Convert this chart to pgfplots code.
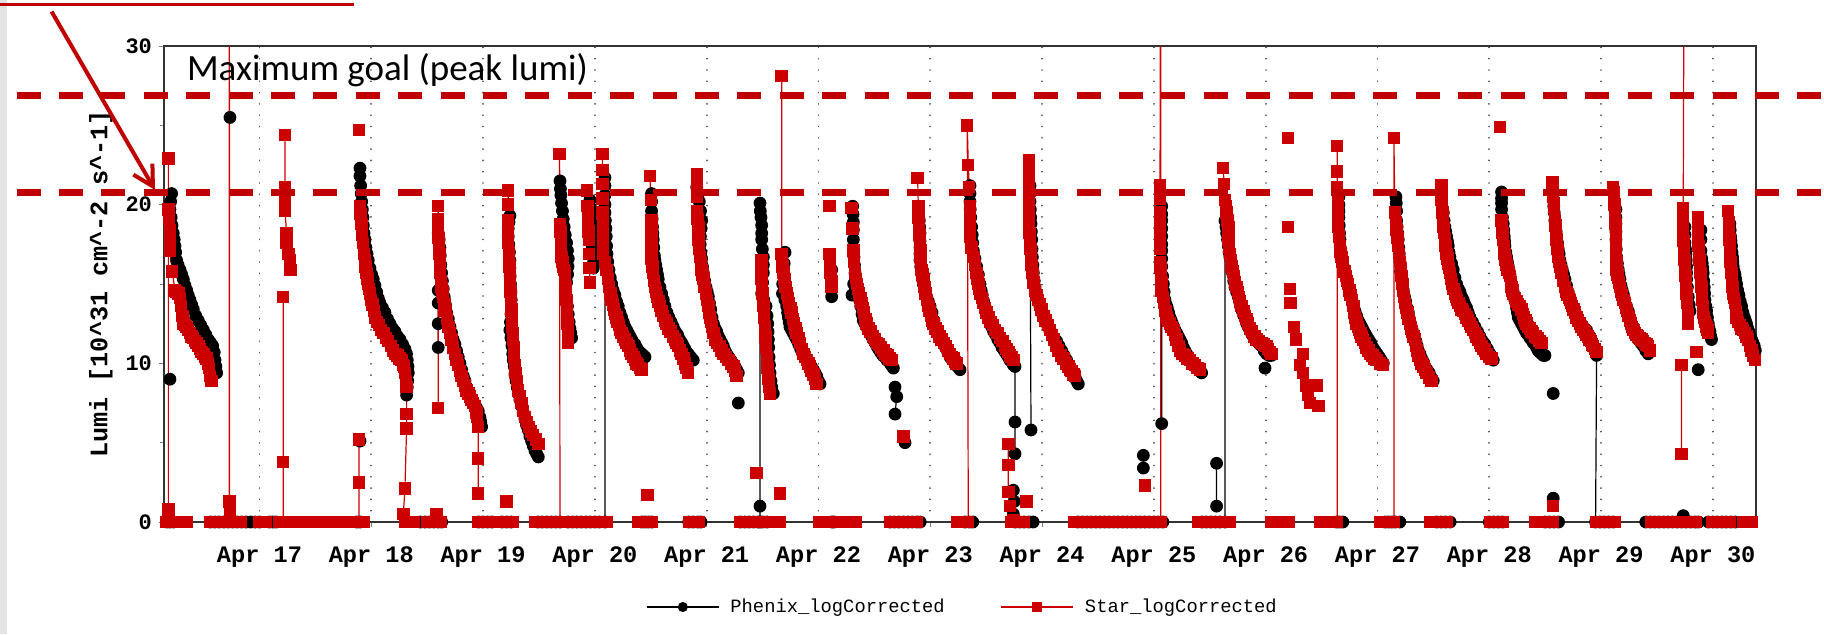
\documentclass[border=0pt]{standalone}
\usepackage{fontspec}
\usepackage{pgfplots}
\pgfplotsset{compat=1.18}
\usetikzlibrary{arrows.meta}
\newfontfamily\lmono{Liberation Mono}
\newfontfamily\calib{Carlito}
\definecolor{starred}{RGB}{204,0,0}
\definecolor{annred}{RGB}{192,0,0}
\pgfplotsset{
  phx/.style={black, line width=0.6pt, mark=*, mark size=2.9pt, mark options={solid, fill=black}},
  star/.style={starred, line width=0.6pt, mark=square*, mark size=2.8pt, mark options={solid, fill=starred}},
}
\begin{document}
\begin{tikzpicture}
\begin{axis}[
  at={(0,0)}, anchor=south west,
  scale only axis, width=796pt, height=238pt,
  xmin=16.146, xmax=30.386, ymin=0, ymax=30,
  unbounded coords=jump,
  axis line style={black!80, line width=0.8pt},
  tick pos=left, tick align=outside,
  major tick length=2.5pt, minor tick length=2pt,
  ytick={0,10,20,30}, minor ytick={5,15,25},
  xtick={17,18,...,30},
  xticklabels={Apr 17,Apr 18,Apr 19,Apr 20,Apr 21,Apr 22,Apr 23,Apr 24,Apr 25,Apr 26,Apr 27,Apr 28,Apr 29,Apr 30},
  /pgf/number format/assume math mode=true,
  yticklabel style={font=\lmono\bfseries\fontsize{11}{11}\selectfont},
  xticklabel style={font=\lmono\bfseries\fontsize{11.8}{12}\selectfont, yshift=-6.5pt},
  xmajorgrids=true,
  major grid style={line width=0.9pt, dash pattern=on 0.01pt off 5.64pt, line cap=round, black!70},
  every axis y label/.style={at={(axis description cs:-0.0396,0.5)}, rotate=90, anchor=center},
  ylabel={\lmono\bfseries\fontsize{12.6}{13}\selectfont Lumi [10\textasciicircum31 cm\textasciicircum-2 s\textasciicircum-1]},
  legend columns=2,
  legend style={at={(axis description cs:0.5022,-0.1786)}, anchor=center, draw=none, fill=none,
    font=\lmono\fontsize{9.4}{10}\selectfont,
    /tikz/every odd column/.append style={column sep=3.5pt},
    /tikz/every even column/.append style={column sep=26pt}},
  legend image code/.code={\draw[mark repeat=2,mark phase=2,#1,mark size=2.2pt] plot coordinates {(0pt,0pt) (18pt,0pt) (36pt,0pt)};},
]
% Phenix_logCorrected
\addplot[phx] coordinates {
(16.17,0)(16.20,0)(16.23,0)(16.24,nan)
(16.199,9.0)(16.2,nan)
(16.214,20.7)(16.205,20.2)(16.199,19.7)(16.210,19.2)(16.218,18.7)(16.229,18.2)(16.237,17.8)(16.244,17.4)(16.250,17.0)(16.259,16.5)(16.272,16.2)(16.289,15.9)(16.304,15.6)(16.319,15.3)(16.334,14.9)(16.349,14.6)(16.363,14.3)(16.378,14.0)(16.393,13.7)(16.408,13.4)(16.430,13.0)(16.453,12.7)(16.475,12.4)(16.498,12.1)(16.520,11.8)(16.542,11.5)(16.562,11.3)(16.581,11.1)(16.595,10.7)(16.602,10.2)(16.610,9.8)(16.617,9.4)(16.62,nan)
(16.56,0)(16.60,0)(16.64,0)(16.68,0)(16.72,0)(16.76,0)(16.80,0)(16.84,0)(16.88,0)(16.92,0)(16.96,0)(17.00,0)(17.0,nan)
(16.736,25.5)(16.74,nan)
(17.09,0)(17.12,0)(17.15,0)(17.15,nan)
(17.87,0)(17.90,0)(17.9,nan)
(17.899,5.1)(17.9,nan)
(17.899,22.3)(17.899,21.8)(17.905,21.2)(17.910,20.7)(17.914,20.2)(17.920,19.7)(17.926,19.2)(17.929,18.7)(17.935,18.2)(17.944,17.8)(17.952,17.3)(17.962,16.9)(17.973,16.5)(17.988,16.0)(18.003,15.6)(18.018,15.3)(18.033,14.9)(18.048,14.5)(18.063,14.1)(18.078,13.8)(18.100,13.5)(18.122,13.2)(18.145,12.8)(18.167,12.5)(18.190,12.2)(18.212,12.0)(18.235,11.7)(18.257,11.5)(18.280,11.2)(18.301,10.9)(18.315,10.6)(18.322,10.2)(18.328,9.8)(18.331,9.4)(18.326,8.9)(18.322,8.5)(18.316,8.0)(18.32,nan)
(18.44,0)(18.48,0)(18.52,0)(18.56,0)(18.60,0)(18.63,0)(18.63,nan)
(18.599,14.6)(18.599,13.8)(18.599,12.5)(18.599,11.0)(18.6,nan)
(18.599,18.2)(18.607,17.8)(18.614,17.3)(18.617,16.8)(18.622,16.2)(18.629,15.7)(18.636,15.2)(18.644,14.7)(18.652,14.2)(18.663,13.7)(18.674,13.2)(18.689,12.8)(18.704,12.3)(18.719,11.9)(18.733,11.5)(18.748,11.2)(18.763,10.8)(18.778,10.4)(18.793,10.0)(18.808,9.6)(18.823,9.2)(18.838,8.9)(18.853,8.5)(18.868,8.2)(18.883,8.0)(18.897,7.8)(18.912,7.6)(18.927,7.4)(18.942,7.2)(18.957,7.0)(18.972,6.6)(18.980,6.3)(18.987,6.0)(18.99,nan)
(18.96,0)(19.00,0)(19.04,0)(19.08,0)(19.08,nan)
(19.17,0)(19.21,0)(19.25,0)(19.25,nan)
(19.240,19.3)(19.232,18.9)(19.225,18.5)(19.225,18.0)(19.230,17.5)(19.236,17.0)(19.240,16.5)(19.240,16.0)(19.242,15.5)(19.245,15.0)(19.249,14.5)(19.252,14.0)(19.255,13.6)(19.250,13.1)(19.245,12.6)(19.240,12.1)(19.249,11.6)(19.258,11.1)(19.265,10.6)(19.270,10.2)(19.279,9.8)(19.285,9.3)(19.295,8.9)(19.305,8.5)(19.315,8.1)(19.330,7.7)(19.345,7.3)(19.359,6.9)(19.374,6.5)(19.389,6.1)(19.404,5.8)(19.419,5.4)(19.434,5.1)(19.449,4.8)(19.464,4.5)(19.479,4.3)(19.494,4.1)(19.5,nan)
(19.49,0)(19.53,0)(19.57,0)(19.61,0)(19.65,0)(19.69,0)(19.69,nan)
(19.688,21.5)(19.692,21.0)(19.696,20.6)(19.702,20.1)(19.710,19.6)(19.717,19.1)(19.725,18.6)(19.735,18.1)(19.747,17.6)(19.755,17.1)(19.762,16.6)(19.760,16.1)(19.756,15.6)(19.747,15.1)(19.735,14.6)(19.745,14.1)(19.755,13.6)(19.762,13.1)(19.770,12.6)(19.777,12.2)(19.785,11.9)(19.792,11.6)(19.8,nan)
(19.956,20.3)(19.962,19.8)(19.968,19.3)(19.971,18.8)(19.971,18.3)(19.971,17.8)(19.976,17.3)(19.980,16.8)(19.986,16.3)(19.986,16.0)(19.99,nan)
(19.76,0)(19.80,0)(19.84,0)(19.88,0)(19.92,0)(19.96,0)(20.00,0)(20.04,0)(20.09,0)
(20.090,21.7)(20.090,21.2)(20.090,20.6)(20.090,20.0)(20.090,19.5)(20.094,19.0)(20.099,18.5)(20.102,18.0)(20.105,17.4)(20.108,16.9)(20.115,16.4)(20.126,15.9)(20.138,15.4)(20.150,15.0)(20.164,14.6)(20.179,14.3)(20.194,13.9)(20.209,13.6)(20.224,13.2)(20.239,12.9)(20.254,12.6)(20.269,12.3)(20.284,12.1)(20.299,11.9)(20.314,11.7)(20.329,11.5)(20.344,11.3)(20.358,11.2)(20.373,11.0)(20.388,10.8)(20.403,10.7)(20.418,10.6)(20.433,10.5)(20.448,10.4)(20.45,nan)
(20.42,0)(20.45,0)(20.48,0)(20.51,0)(20.51,nan)
(20.507,20.7)(20.507,20.2)(20.507,19.6)(20.512,19.1)(20.516,18.6)(20.519,18.2)(20.522,17.8)(20.527,17.3)(20.532,16.8)(20.537,16.5)(20.545,16.2)(20.552,15.9)(20.560,15.6)(20.567,15.3)(20.582,14.8)(20.597,14.4)(20.612,14.0)(20.627,13.6)(20.645,13.2)(20.662,12.9)(20.682,12.6)(20.701,12.3)(20.720,12.0)(20.740,11.8)(20.758,11.5)(20.776,11.3)(20.791,11.1)(20.806,10.9)(20.820,10.7)(20.835,10.6)(20.857,10.4)(20.880,10.2)(20.88,nan)
(20.84,0)(20.88,0)(20.92,0)(20.95,0)(20.95,nan)
(20.911,21.1)(20.922,20.6)(20.934,20.2)(20.945,19.6)(20.955,19.0)(20.950,18.5)(20.944,18.0)(20.942,17.5)(20.948,17.0)(20.955,16.6)(20.962,16.1)(20.970,15.7)(20.982,15.2)(20.994,14.8)(21.005,14.5)(21.015,14.2)(21.025,13.8)(21.036,13.4)(21.048,12.9)(21.060,12.5)(21.075,12.2)(21.090,12.0)(21.105,11.7)(21.119,11.5)(21.134,11.3)(21.149,11.1)(21.164,10.8)(21.179,10.6)(21.197,10.4)(21.215,10.2)(21.234,10.0)(21.253,9.8)(21.268,9.6)(21.283,9.4)(21.29,nan)
(21.283,7.5)(21.29,nan)
(21.30,0)(21.34,0)(21.38,0)(21.42,0)(21.46,0)(21.477,0)(21.477,1.0)
(21.477,20.1)(21.480,19.6)(21.486,19.2)(21.492,18.7)(21.492,18.2)(21.492,17.8)(21.498,17.2)(21.507,16.7)(21.507,16.2)(21.507,15.7)(21.500,15.1)(21.492,14.4)(21.510,14.0)(21.531,13.6)(21.540,13.0)(21.546,12.5)(21.549,12.0)(21.552,11.5)(21.555,11.0)(21.558,10.4)(21.562,9.9)(21.567,9.4)(21.575,8.9)(21.582,8.5)(21.596,8.1)(21.6,nan)
(21.50,0)(21.54,0)(21.54,nan)
(21.701,17.0)(21.693,16.3)(21.686,15.7)(21.680,15.0)(21.678,14.4)(21.700,14.0)(21.716,13.6)(21.724,13.2)(21.731,12.9)(21.738,12.6)(21.745,12.3)(21.760,12.1)(21.775,11.9)(21.790,11.7)(21.805,11.5)(21.823,11.2)(21.841,10.9)(21.860,10.6)(21.880,10.4)(21.899,10.2)(21.918,10.0)(21.936,9.8)(21.954,9.6)(21.969,9.4)(21.984,9.2)(21.999,8.9)(22.014,8.7)(22.02,nan)
(22.12,0)(22.14,0)(22.14,nan)
(22.118,15.9)(22.118,15.3)(22.118,14.7)(22.118,14.2)(22.12,nan)
(22.306,19.9)(22.309,19.4)(22.312,18.9)(22.312,18.4)(22.312,17.8)(22.315,17.2)(22.318,16.7)(22.322,16.2)(22.327,15.7)(22.315,15.0)(22.300,14.3)(22.330,14.5)(22.357,14.4)(22.368,14.0)(22.378,13.6)(22.390,13.1)(22.401,12.7)(22.416,12.5)(22.431,12.3)(22.446,12.1)(22.461,11.9)(22.476,11.7)(22.491,11.5)(22.506,11.3)(22.521,11.1)(22.538,10.9)(22.556,10.7)(22.575,10.5)(22.595,10.4)(22.613,10.2)(22.631,10.1)(22.650,9.9)(22.670,9.7)(22.67,nan)
(22.685,8.5)(22.700,7.9)(22.685,6.8)(22.69,nan)
(22.759,5.4)(22.774,5.0)(22.78,nan)
(22.64,0)(22.68,0)(22.72,0)(22.76,0)(22.80,0)(22.84,0)(22.88,0)(22.91,0)(22.91,nan)
(22.902,19.0)(22.905,18.6)(22.908,18.2)(22.908,17.7)(22.908,17.3)(22.908,16.9)(22.908,16.5)(22.915,16.1)(22.923,15.7)(22.930,15.3)(22.938,15.0)(22.953,14.6)(22.968,14.2)(22.983,13.9)(22.998,13.6)(23.016,13.2)(23.033,12.7)(23.052,12.3)(23.072,11.9)(23.095,11.6)(23.117,11.3)(23.137,11.0)(23.157,10.7)(23.177,10.4)(23.199,10.2)(23.221,10.0)(23.243,9.8)(23.266,9.6)(23.27,nan)
(23.31,0)(23.35,0)(23.38,0)(23.38,nan)
(23.355,21.2)(23.355,20.7)(23.355,20.2)(23.357,19.7)(23.362,19.2)(23.370,18.6)(23.375,18.1)(23.380,17.6)(23.385,17.1)(23.400,16.6)(23.415,16.1)(23.430,15.6)(23.445,15.0)(23.455,14.6)(23.465,14.3)(23.477,13.9)(23.489,13.6)(23.504,13.2)(23.519,12.9)(23.534,12.6)(23.549,12.3)(23.567,12.0)(23.585,11.8)(23.604,11.5)(23.623,11.3)(23.642,11.0)(23.662,10.8)(23.680,10.6)(23.698,10.4)(23.713,10.2)(23.728,10.1)(23.743,9.9)(23.758,9.8)(23.758,6.3)(23.758,4.3)(23.76,nan)
(23.743,2.0)(23.752,1.3)(23.743,0.5)(23.75,nan)
(23.76,0)(23.80,0)(23.84,0)(23.88,0)(23.92,0)(23.92,nan)
(23.901,5.8)(23.892,21.2)(23.892,20.7)(23.892,20.2)(23.895,19.7)(23.898,19.2)(23.901,18.8)(23.904,18.3)(23.907,17.8)(23.910,17.2)(23.913,16.7)(23.918,16.2)(23.922,15.7)(23.930,15.2)(23.937,14.8)(23.945,14.5)(23.952,14.2)(23.966,13.9)(23.981,13.6)(23.996,13.2)(24.011,12.9)(24.030,12.6)(24.050,12.4)(24.068,12.1)(24.086,11.9)(24.108,11.6)(24.130,11.4)(24.152,11.1)(24.175,10.8)(24.197,10.5)(24.220,10.2)(24.242,9.9)(24.265,9.6)(24.280,9.4)(24.294,9.2)(24.309,8.9)(24.324,8.7)(24.33,nan)
(24.32,0)(24.36,0)(24.40,0)(24.44,0)(24.48,0)(24.52,0)(24.56,0)(24.60,0)(24.64,0)(24.68,0)(24.72,0)(24.76,0)(24.80,0)(24.84,0)(24.88,0)(24.92,0)(24.96,0)(25.00,0)(25.04,0)(25.08,0)(25.08,nan)
(24.906,4.2)(24.906,3.4)(24.91,nan)
(25.070,6.2)(25.070,19.9)(25.070,19.4)(25.070,19.0)(25.070,18.5)(25.070,18.0)(25.070,17.5)(25.070,17.1)(25.070,16.6)(25.070,16.1)(25.078,15.5)(25.085,15.0)(25.092,14.5)(25.099,14.0)(25.110,13.7)(25.120,13.5)(25.132,13.2)(25.144,12.9)(25.155,12.7)(25.165,12.5)(25.177,12.3)(25.189,12.1)(25.204,11.9)(25.219,11.7)(25.233,11.5)(25.248,11.3)(25.263,11.0)(25.278,10.8)(25.293,10.6)(25.308,10.4)(25.323,10.2)(25.338,10.1)(25.353,9.9)(25.368,9.8)(25.383,9.7)(25.398,9.6)(25.413,9.5)(25.427,9.4)(25.43,nan)
(25.561,3.7)(25.561,1.0)(25.56,nan)
(25.43,0)(25.47,0)(25.51,0)(25.55,0)(25.59,0)(25.636,0)
(25.636,19.0)(25.645,18.6)(25.651,18.2)(25.659,17.8)(25.666,17.4)(25.673,17.0)(25.680,16.7)(25.692,16.2)(25.704,15.7)(25.714,15.2)(25.725,14.8)(25.740,14.5)(25.755,14.2)(25.766,13.9)(25.776,13.6)(25.791,13.3)(25.806,13.0)(25.818,12.8)(25.830,12.5)(25.845,12.3)(25.859,12.1)(25.874,11.9)(25.889,11.7)(25.907,11.5)(25.925,11.4)(25.945,11.2)(25.964,11.1)(25.986,10.8)(26.008,10.6)(26.030,10.5)(26.053,10.5)(26.06,nan)
(25.994,9.7)(26.0,nan)
(26.634,0)(26.66,0)(26.69,0)(26.69,nan)
(26.655,20.5)(26.655,20.0)(26.655,19.6)(26.655,19.2)(26.658,18.7)(26.661,18.2)(26.664,17.8)(26.671,17.2)(26.679,16.7)(26.686,16.4)(26.694,16.1)(26.701,15.9)(26.709,15.7)(26.720,15.4)(26.730,15.1)(26.742,14.8)(26.754,14.6)(26.762,14.3)(26.769,14.1)(26.777,13.8)(26.784,13.6)(26.799,13.3)(26.813,13.0)(26.828,12.7)(26.843,12.5)(26.858,12.3)(26.873,12.1)(26.888,11.9)(26.903,11.7)(26.921,11.5)(26.939,11.3)(26.958,11.0)(26.977,10.8)(26.997,10.6)(27.016,10.4)(27.034,10.2)(27.052,10.0)(27.06,nan)
(27.067,0)(27.10,0)(27.13,0)(27.16,0)(27.20,0)(27.2,nan)
(27.165,20.5)(27.168,20.1)(27.171,19.6)(27.171,19.0)(27.176,18.6)(27.181,18.2)(27.186,17.8)(27.190,17.3)(27.195,16.9)(27.201,16.4)(27.208,15.8)(27.216,15.4)(27.224,15.0)(27.231,14.6)(27.242,14.2)(27.252,13.9)(27.264,13.5)(27.276,13.2)(27.286,12.8)(27.296,12.5)(27.308,12.2)(27.320,11.9)(27.332,11.6)(27.344,11.4)(27.355,11.1)(27.365,10.8)(27.380,10.6)(27.395,10.3)(27.410,10.1)(27.425,9.8)(27.444,9.6)(27.463,9.4)(27.481,9.1)(27.499,8.9)(27.5,nan)
(27.53,0)(27.57,0)(27.61,0)(27.65,0)(27.65,nan)
(27.589,19.5)(27.596,19.0)(27.603,18.6)(27.611,18.3)(27.618,18.0)(27.626,17.7)(27.633,17.4)(27.640,17.0)(27.648,16.7)(27.663,16.3)(27.678,15.9)(27.693,15.4)(27.708,15.0)(27.723,14.7)(27.738,14.5)(27.752,14.2)(27.767,14.0)(27.782,13.7)(27.797,13.5)(27.812,13.2)(27.827,12.9)(27.850,12.6)(27.872,12.3)(27.895,12.0)(27.917,11.7)(27.939,11.4)(27.961,11.2)(27.984,10.9)(28.006,10.6)(28.021,10.4)(28.036,10.2)(28.04,nan)
(28.00,0)(28.04,0)(28.08,0)(28.12,0)(28.12,nan)
(28.110,20.8)(28.110,20.4)(28.110,20.1)(28.110,19.7)(28.118,19.2)(28.125,18.8)(28.130,18.4)(28.134,18.0)(28.137,17.7)(28.140,17.4)(28.148,17.0)(28.155,16.7)(28.162,16.4)(28.170,16.1)(28.178,15.8)(28.185,15.6)(28.192,15.3)(28.200,15.0)(28.207,14.8)(28.214,14.5)(28.222,14.2)(28.229,14.0)(28.237,13.8)(28.244,13.5)(28.252,13.2)(28.259,12.9)(28.274,12.7)(28.289,12.5)(28.304,12.3)(28.319,12.1)(28.334,11.9)(28.349,11.8)(28.364,11.6)(28.378,11.5)(28.393,11.3)(28.408,11.2)(28.423,11.0)(28.438,10.8)(28.453,10.7)(28.468,10.6)(28.483,10.5)(28.498,10.5)(28.5,nan)
(28.572,8.1)(28.58,nan)
(28.572,1.5)(28.58,nan)
(28.50,0)(28.54,0)(28.58,0)(28.62,0)(28.62,nan)
(28.572,20.3)(28.577,19.9)(28.581,19.5)(28.587,19.0)(28.593,18.6)(28.598,18.3)(28.602,18.0)(28.610,17.6)(28.617,17.2)(28.625,16.9)(28.632,16.5)(28.642,16.2)(28.653,15.9)(28.665,15.6)(28.677,15.3)(28.691,14.9)(28.706,14.5)(28.721,14.2)(28.736,13.8)(28.751,13.5)(28.766,13.3)(28.781,13.0)(28.796,12.7)(28.814,12.5)(28.832,12.4)(28.851,12.2)(28.870,12.1)(28.890,11.8)(28.909,11.5)(28.927,11.1)(28.945,10.8)(28.960,10.5)(28.951,0)(28.99,0)(29.03,0)(29.07,0)(29.11,0)(29.11,nan)
(29.133,19.7)(29.133,19.2)(29.133,18.8)(29.133,18.3)(29.133,17.8)(29.136,17.2)(29.139,16.7)(29.146,16.3)(29.154,15.9)(29.161,15.6)(29.169,15.3)(29.179,14.9)(29.189,14.6)(29.201,14.3)(29.213,14.0)(29.228,13.6)(29.243,13.3)(29.258,12.9)(29.273,12.5)(29.288,12.3)(29.303,12.0)(29.318,11.7)(29.333,11.5)(29.355,11.3)(29.377,11.1)(29.400,10.8)(29.422,10.6)(29.43,nan)
(29.40,0)(29.44,0)(29.48,0)(29.52,0)(29.56,0)(29.60,0)(29.64,0)(29.68,0)(29.72,0)(29.76,0)(29.80,0)(29.84,0)(29.87,0)(29.87,nan)
(29.735,0.4)(29.74,nan)
(29.750,18.6)(29.750,18.1)(29.750,17.6)(29.755,17.2)(29.759,16.9)(29.762,16.5)(29.765,16.1)(29.765,15.7)(29.765,15.3)(29.772,14.8)(29.780,14.2)(29.788,13.7)(29.795,13.3)(29.8,nan)
(29.869,9.6)(29.87,nan)
(29.893,18.4)(29.893,17.8)(29.893,17.1)(29.900,16.6)(29.905,16.3)(29.910,16.0)(29.914,15.7)(29.918,15.2)(29.923,14.8)(29.926,14.4)(29.929,14.0)(29.937,13.6)(29.944,13.3)(29.951,12.9)(29.959,12.5)(29.966,12.2)(29.974,12.0)(29.981,11.7)(29.988,11.5)(29.99,nan)
(29.96,0)(30.00,0)(30.04,0)(30.08,0)(30.12,0)(30.16,0)(30.20,0)(30.2,nan)
(30.152,18.8)(30.155,18.4)(30.158,18.0)(30.162,17.7)(30.167,17.4)(30.171,17.0)(30.176,16.7)(30.179,16.4)(30.182,16.1)(30.190,15.8)(30.197,15.6)(30.205,15.3)(30.212,15.0)(30.222,14.6)(30.233,14.3)(30.245,13.9)(30.257,13.6)(30.269,13.2)(30.281,12.9)(30.291,12.7)(30.301,12.5)(30.312,12.2)(30.322,12.0)(30.334,11.7)(30.346,11.5)(30.358,11.3)(30.370,11.1)(30.380,10.8)(30.391,10.6)
};
\addlegendentry{Phenix\_logCorrected}
% Star_logCorrected
\addplot[star] coordinates {
(16.11,0)(16.14,0)(16.17,0)(16.185,0)(16.185,0.8)(16.185,22.9)(16.185,19.7)(16.193,19.1)(16.199,18.4)(16.199,17.8)(16.199,17.1)(16.220,15.8)(16.244,14.6)(16.259,14.5)(16.274,14.4)(16.289,14.1)(16.300,13.6)(16.310,13.0)(16.319,12.5)(16.334,12.4)(16.349,12.3)(16.363,12.1)(16.378,11.9)(16.393,11.7)(16.408,11.6)(16.423,11.4)(16.438,11.3)(16.453,11.1)(16.468,10.9)(16.483,10.7)(16.498,10.6)(16.512,10.4)(16.527,10.3)(16.538,10.0)(16.548,9.7)(16.557,9.2)(16.572,8.9)(16.58,nan)
(16.20,0)(16.23,0)(16.23,nan)(16.27,0)(16.31,0)(16.35,0)(16.35,nan)
(16.56,0)(16.60,0)(16.64,0)(16.68,0)(16.72,0)(16.730,0)(16.730,40)(16.733,1.3)(16.735,0.5)(16.77,0)(16.80,0)(16.83,0)(16.83,nan)
(17.00,0)(17.03,0)(17.06,0)(17.06,nan)
(17.18,0)(17.213,0)(17.213,3.8)(17.213,14.2)(17.22,nan)
(17.228,24.4)(17.228,21.1)(17.228,20.4)(17.228,19.6)(17.243,18.2)(17.243,17.6)(17.258,16.9)(17.273,16.5)(17.279,15.9)(17.28,nan)
(17.24,0)(17.24,nan)
(17.32,0)(17.36,0)(17.40,0)(17.44,0)(17.48,0)(17.52,0)(17.56,0)(17.60,0)(17.63,0)(17.63,nan)
(17.73,0)(17.77,0)(17.81,0)(17.85,0)(17.890,0)(17.890,2.5)(17.890,5.2)(17.89,nan)
(17.91,0)(17.93,0)(17.93,nan)
(17.890,24.7)(17.89,nan)
(17.899,19.9)(17.905,19.4)(17.914,18.8)(17.919,18.1)(17.926,17.6)(17.935,16.9)(17.942,16.5)(17.950,16.1)(17.958,15.7)(17.966,15.3)(17.973,15.0)(17.980,14.7)(17.988,14.4)(18.000,14.0)(18.012,13.7)(18.022,13.3)(18.033,12.9)(18.051,12.6)(18.069,12.4)(18.088,12.1)(18.108,11.9)(18.130,11.6)(18.152,11.4)(18.175,11.1)(18.197,10.8)(18.215,10.6)(18.233,10.5)(18.252,10.3)(18.272,10.2)(18.285,9.9)(18.292,9.8)(18.301,9.4)(18.310,8.9)(18.316,8.5)(18.316,6.8)(18.316,5.9)(18.301,2.1)(18.287,0.5)(18.30,0)(18.34,0)(18.38,0)(18.38,nan)
(18.50,0)(18.54,0)(18.58,0)(18.62,0)(18.62,nan)
(18.584,0.5)(18.59,nan)
(18.599,7.2)(18.599,19.9)(18.599,19.1)(18.599,18.4)(18.602,17.9)(18.605,17.4)(18.610,16.9)(18.614,16.5)(18.614,16.1)(18.614,15.7)(18.622,15.2)(18.629,14.8)(18.636,14.5)(18.644,14.2)(18.655,13.7)(18.665,13.3)(18.677,12.8)(18.689,12.3)(18.704,11.9)(18.719,11.5)(18.733,11.0)(18.748,10.6)(18.763,10.2)(18.778,9.9)(18.793,9.5)(18.808,9.2)(18.823,8.9)(18.838,8.6)(18.853,8.3)(18.868,8.1)(18.883,7.9)(18.897,7.7)(18.912,7.5)(18.927,7.3)(18.940,6.9)(18.948,6.6)(18.957,6.0)(18.957,4.0)(18.957,1.8)(18.96,nan)
(18.96,0)(19.00,0)(19.04,0)(19.08,0)(19.08,nan)
(19.12,0)(19.16,0)(19.20,0)(19.23,0)(19.27,0)(19.27,nan)
(19.210,1.3)(19.21,nan)
(19.225,20.9)(19.225,20.0)(19.225,19.0)(19.225,18.3)(19.225,17.6)(19.230,17.0)(19.234,16.5)(19.237,16.1)(19.240,15.7)(19.240,15.2)(19.240,14.8)(19.245,14.5)(19.249,14.2)(19.252,13.8)(19.255,13.4)(19.258,12.9)(19.261,12.3)(19.265,11.9)(19.270,11.5)(19.274,11.0)(19.279,10.4)(19.285,9.9)(19.291,9.4)(19.303,8.9)(19.315,8.3)(19.330,7.9)(19.345,7.5)(19.359,7.0)(19.374,6.6)(19.392,6.3)(19.410,6.0)(19.430,5.7)(19.449,5.5)(19.472,5.2)(19.494,4.9)(19.5,nan)
(19.47,0)(19.51,0)(19.55,0)(19.59,0)(19.63,0)(19.67,0)(19.688,0)(19.684,23.2)
(19.688,18.8)(19.692,18.3)(19.696,17.8)(19.699,17.2)(19.702,16.7)(19.710,16.4)(19.717,16.1)(19.725,15.9)(19.732,15.7)(19.735,15.2)(19.738,14.8)(19.743,14.4)(19.747,14.0)(19.750,13.4)(19.753,12.9)(19.756,12.5)(19.759,11.9)(19.762,11.3)(19.77,nan)
(19.932,20.9)(19.935,19.9)(19.938,19.3)(19.941,18.8)(19.944,18.3)(19.947,17.8)(19.950,16.9)(19.953,16.0)(19.956,15.1)(19.96,nan)
(19.79,0)(19.83,0)(19.87,0)(19.91,0)(19.95,0)(19.99,0)(20.03,0)(20.07,0)(20.11,0)(20.11,nan)
(20.069,23.2)(20.069,22.2)(20.069,21.3)(20.069,20.4)(20.069,19.5)(20.072,18.8)(20.075,18.2)(20.075,17.5)(20.075,16.9)(20.090,16.4)(20.105,15.9)(20.115,15.3)(20.126,14.8)(20.138,14.4)(20.150,14.0)(20.160,13.7)(20.170,13.4)(20.182,13.1)(20.194,12.9)(20.204,12.6)(20.215,12.4)(20.227,12.1)(20.239,11.9)(20.254,11.7)(20.269,11.5)(20.284,11.3)(20.299,11.1)(20.314,10.8)(20.329,10.6)(20.344,10.4)(20.358,10.2)(20.373,10.0)(20.388,9.9)(20.403,9.7)(20.418,9.6)(20.42,nan)
(20.39,0)(20.43,0)(20.47,0)(20.51,0)(20.51,nan)
(20.471,1.7)(20.47,nan)
(20.492,21.8)(20.501,20.3)(20.507,19.0)(20.507,18.4)(20.507,17.8)(20.507,17.2)(20.507,16.6)(20.515,16.1)(20.522,15.7)(20.530,15.2)(20.537,14.8)(20.548,14.5)(20.558,14.2)(20.570,13.9)(20.582,13.6)(20.597,13.3)(20.612,13.0)(20.627,12.7)(20.642,12.5)(20.660,12.2)(20.677,12.0)(20.697,11.7)(20.716,11.5)(20.731,11.3)(20.746,11.1)(20.761,10.8)(20.776,10.6)(20.791,10.3)(20.806,10.0)(20.820,9.7)(20.835,9.4)(20.84,nan)
(20.84,0)(20.87,0)(20.90,0)(20.93,0)(20.93,nan)
(20.911,21.9)(20.911,21.2)(20.911,20.5)(20.911,19.6)(20.918,19.1)(20.926,18.6)(20.926,18.2)(20.926,17.8)(20.933,17.2)(20.940,16.7)(20.948,16.3)(20.955,15.9)(20.962,15.6)(20.970,15.3)(20.982,14.8)(20.994,14.4)(21.005,14.0)(21.015,13.6)(21.023,13.2)(21.030,12.9)(21.038,12.6)(21.045,12.3)(21.060,11.9)(21.075,11.5)(21.094,11.3)(21.113,11.1)(21.131,10.8)(21.149,10.6)(21.172,10.4)(21.194,10.2)(21.217,10.0)(21.239,9.8)(21.254,9.5)(21.268,9.2)(21.27,nan)
(21.30,0)(21.34,0)(21.38,0)(21.42,0)(21.46,0)(21.50,0)(21.54,0)(21.54,nan)
(21.447,3.1)(21.45,nan)
(21.492,16.5)(21.492,15.9)(21.492,15.3)(21.497,14.8)(21.501,14.4)(21.504,14.0)(21.507,13.6)(21.515,12.9)(21.522,12.3)(21.527,11.7)(21.532,11.0)(21.537,10.4)(21.545,9.7)(21.552,9.0)(21.560,8.5)(21.567,8.1)(21.57,nan)
(21.57,0)(21.61,0)(21.65,0)(21.65,nan)
(21.656,1.8)(21.66,nan)
(21.671,28.1)(21.671,16.9)(21.676,16.5)(21.680,16.1)(21.688,15.7)(21.695,15.3)(21.705,14.8)(21.716,14.4)(21.727,14.1)(21.737,13.8)(21.748,13.5)(21.760,13.2)(21.770,12.8)(21.781,12.5)(21.793,12.2)(21.805,11.9)(21.820,11.6)(21.835,11.3)(21.850,10.9)(21.865,10.6)(21.880,10.4)(21.895,10.2)(21.910,10.0)(21.924,9.8)(21.939,9.5)(21.954,9.3)(21.969,9.0)(21.984,8.7)(21.99,nan)
(22.01,0)(22.05,0)(22.09,0)(22.13,0)(22.17,0)(22.21,0)(22.25,0)(22.29,0)(22.33,0)(22.33,nan)
(22.097,19.9)(22.1,nan)
(22.097,16.9)(22.103,16.3)(22.109,15.7)(22.115,15.2)(22.118,14.8)(22.12,nan)
(22.297,19.8)(22.305,18.5)(22.312,17.1)(22.320,16.4)(22.327,15.7)(22.335,15.3)(22.342,15.0)(22.352,14.7)(22.363,14.4)(22.375,14.1)(22.386,13.8)(22.396,13.5)(22.407,13.2)(22.419,12.8)(22.431,12.5)(22.449,12.2)(22.467,12.0)(22.487,11.7)(22.506,11.5)(22.523,11.3)(22.541,11.2)(22.560,11.0)(22.580,10.8)(22.598,10.6)(22.616,10.5)(22.636,10.3)(22.655,10.2)(22.66,nan)
(22.759,5.4)(22.76,nan)
(22.64,0)(22.68,0)(22.72,0)(22.76,0)(22.80,0)(22.84,0)(22.88,0)(22.88,nan)
(22.887,21.7)(22.893,19.9)(22.896,19.2)(22.899,18.6)(22.904,18.1)(22.908,17.6)(22.911,17.1)(22.914,16.7)(22.918,16.3)(22.923,15.9)(22.930,15.6)(22.938,15.3)(22.948,14.8)(22.959,14.4)(22.971,14.0)(22.983,13.6)(22.994,13.3)(23.004,13.0)(23.016,12.7)(23.028,12.5)(23.046,12.2)(23.063,12.0)(23.082,11.7)(23.102,11.5)(23.121,11.3)(23.141,11.1)(23.159,10.8)(23.177,10.6)(23.192,10.4)(23.206,10.3)(23.221,10.1)(23.236,10.0)(23.24,nan)
(23.24,0)(23.28,0)(23.32,0)(23.340,0)(23.331,25.0)(23.340,22.5)(23.349,21.1)
(23.355,19.9)(23.355,19.4)(23.355,19.0)(23.355,18.5)(23.355,18.0)(23.370,17.3)(23.385,16.7)(23.400,16.2)(23.415,15.7)(23.423,15.3)(23.430,15.0)(23.438,14.7)(23.445,14.4)(23.460,14.1)(23.474,13.8)(23.489,13.5)(23.504,13.2)(23.522,12.9)(23.540,12.6)(23.560,12.4)(23.579,12.1)(23.601,11.9)(23.623,11.6)(23.645,11.4)(23.668,11.1)(23.683,10.9)(23.698,10.7)(23.713,10.5)(23.728,10.4)(23.743,10.2)(23.75,nan)
(23.698,4.9)(23.698,3.6)(23.698,1.9)(23.713,1.0)(23.743,0.1)(23.75,nan)
(23.862,1.3)(23.87,nan)
(23.72,0)(23.76,0)(23.80,0)(23.84,0)(23.84,nan)
(23.883,22.8)(23.883,22.2)(23.883,21.6)(23.883,20.9)(23.883,20.3)(23.883,19.9)(23.883,19.5)(23.883,19.0)(23.883,18.6)(23.888,18.2)(23.892,17.8)(23.897,17.2)(23.901,16.7)(23.907,16.2)(23.913,15.7)(23.925,15.1)(23.937,14.6)(23.951,14.3)(23.966,14.0)(23.981,13.7)(23.996,13.4)(24.014,13.0)(24.032,12.7)(24.052,12.4)(24.071,12.1)(24.088,11.8)(24.106,11.5)(24.125,11.1)(24.145,10.8)(24.168,10.5)(24.190,10.3)(24.212,10.0)(24.235,9.8)(24.250,9.6)(24.265,9.5)(24.280,9.3)(24.294,9.2)(24.3,nan)
(24.29,0)(24.33,0)(24.37,0)(24.41,0)(24.45,0)(24.49,0)(24.53,0)(24.57,0)(24.61,0)(24.65,0)(24.69,0)(24.73,0)(24.77,0)(24.81,0)(24.85,0)(24.89,0)(24.93,0)(24.97,0)(25.01,0)(25.05,0)(25.061,0)(25.061,40)(25.055,21.2)(25.055,20.4)(25.055,19.5)(25.055,18.8)(25.055,18.0)(25.055,17.2)(25.055,16.4)(25.060,16.0)(25.064,15.7)(25.067,15.1)(25.070,14.6)(25.082,14.2)(25.093,13.8)(25.104,13.3)(25.114,12.9)(25.129,12.7)(25.144,12.5)(25.159,12.3)(25.174,12.1)(25.189,11.8)(25.204,11.5)(25.219,11.1)(25.234,10.8)(25.256,10.6)(25.278,10.5)(25.300,10.3)(25.323,10.2)(25.345,10.0)(25.368,9.9)(25.390,9.7)(25.412,9.6)(25.42,nan)
(24.921,2.3)(24.93,nan)
(25.40,0)(25.44,0)(25.48,0)(25.52,0)(25.56,0)(25.60,0)(25.64,0)(25.68,0)(25.68,nan)
(25.621,22.3)(25.627,21.3)(25.636,20.3)(25.644,19.9)(25.651,19.5)(25.658,19.0)(25.666,18.6)(25.666,18.2)(25.666,17.8)(25.673,17.3)(25.680,16.9)(25.688,16.5)(25.695,16.1)(25.706,15.8)(25.716,15.5)(25.728,15.1)(25.740,14.8)(25.750,14.5)(25.761,14.2)(25.773,13.9)(25.785,13.6)(25.800,13.3)(25.815,13.0)(25.830,12.8)(25.844,12.5)(25.862,12.2)(25.880,12.0)(25.900,11.7)(25.919,11.5)(25.942,11.4)(25.964,11.3)(25.986,11.2)(26.008,11.1)(26.023,10.9)(26.038,10.7)(26.053,10.6)(26.06,nan)
(26.05,0)(26.09,0)(26.13,0)(26.17,0)(26.21,0)(26.21,nan)
(26.49,0)(26.53,0)(26.57,0)(26.61,0)(26.640,0)(26.640,23.7)(26.640,22.1)(26.640,21.1)
(26.645,20.5)(26.649,19.9)(26.649,19.2)(26.649,18.6)(26.657,18.0)(26.664,17.4)(26.671,17.0)(26.679,16.7)(26.686,16.4)(26.694,16.1)(26.706,15.8)(26.718,15.5)(26.729,15.2)(26.739,15.0)(26.750,14.6)(26.760,14.3)(26.772,14.0)(26.784,13.6)(26.792,13.2)(26.799,12.9)(26.806,12.7)(26.813,12.5)(26.825,12.3)(26.837,12.1)(26.848,11.9)(26.858,11.7)(26.873,11.5)(26.888,11.3)(26.903,11.0)(26.918,10.8)(26.936,10.6)(26.954,10.5)(26.973,10.3)(26.992,10.2)(27.022,10.0)(27.052,9.9)(27.06,nan)
(27.02,0)(27.06,0)(27.10,0)(27.13,0)(27.147,0)(27.147,24.2)
(27.156,19.5)(27.165,18.9)(27.171,18.4)(27.178,17.9)(27.186,17.4)(27.193,16.9)(27.201,16.4)(27.208,16.0)(27.216,15.5)(27.224,15.0)(27.231,14.6)(27.238,14.2)(27.246,13.8)(27.256,13.5)(27.267,13.2)(27.278,12.8)(27.290,12.5)(27.300,12.2)(27.311,12.0)(27.323,11.7)(27.335,11.5)(27.345,11.1)(27.356,10.8)(27.368,10.5)(27.380,10.2)(27.395,10.0)(27.410,9.8)(27.425,9.6)(27.440,9.4)(27.462,9.1)(27.484,8.9)(27.49,nan)
(27.47,0)(27.51,0)(27.55,0)(27.59,0)(27.62,0)(27.62,nan)
(27.574,21.2)(27.574,20.8)(27.574,20.3)(27.577,19.9)(27.580,19.5)(27.585,19.0)(27.589,18.6)(27.596,18.2)(27.603,17.8)(27.610,17.4)(27.618,16.9)(27.626,16.6)(27.633,16.3)(27.640,16.0)(27.648,15.7)(27.659,15.3)(27.669,15.0)(27.681,14.7)(27.693,14.4)(27.704,14.2)(27.714,14.0)(27.726,13.8)(27.738,13.6)(27.752,13.4)(27.767,13.3)(27.782,13.1)(27.797,12.9)(27.812,12.7)(27.827,12.5)(27.842,12.3)(27.857,12.1)(27.872,11.9)(27.887,11.7)(27.902,11.5)(27.917,11.3)(27.932,11.1)(27.947,10.9)(27.961,10.8)(27.976,10.6)(27.998,10.4)(28.021,10.3)(28.03,nan)
(28.01,0)(28.04,0)(28.08,0)(28.12,0)(28.12,nan)
(28.095,24.9)(28.1,nan)
(28.110,19.0)(28.114,18.6)(28.119,18.2)(28.125,17.8)(28.131,17.4)(28.138,16.9)(28.146,16.5)(28.155,16.2)(28.164,15.9)(28.175,15.7)(28.185,15.5)(28.192,15.1)(28.200,14.8)(28.207,14.6)(28.214,14.4)(28.229,14.1)(28.244,13.9)(28.259,13.7)(28.274,13.6)(28.289,13.4)(28.301,13.1)(28.313,12.9)(28.323,12.7)(28.334,12.5)(28.349,12.3)(28.364,12.2)(28.378,12.0)(28.393,11.9)(28.412,11.7)(28.432,11.6)(28.450,11.4)(28.468,11.3)(28.47,nan)
(28.41,0)(28.45,0)(28.49,0)(28.53,0)(28.57,0)(28.57,nan)
(28.572,1.0)(28.58,nan)
(28.566,21.4)(28.572,20.5)(28.577,20.1)(28.581,19.8)(28.587,19.0)(28.592,18.7)(28.596,18.4)(28.602,17.8)(28.610,17.2)(28.617,16.7)(28.625,16.4)(28.632,16.1)(28.640,15.9)(28.647,15.7)(28.662,15.2)(28.677,14.8)(28.689,14.5)(28.700,14.3)(28.711,14.1)(28.721,14.0)(28.732,13.8)(28.742,13.6)(28.754,13.4)(28.766,13.2)(28.781,12.9)(28.796,12.7)(28.811,12.5)(28.826,12.3)(28.841,12.1)(28.855,12.0)(28.870,11.8)(28.885,11.7)(28.897,11.5)(28.909,11.4)(28.920,11.2)(28.930,11.1)(28.945,10.9)(28.960,10.7)(28.97,nan)
(28.96,0)(29.00,0)(29.04,0)(29.08,0)(29.12,0)(29.12,nan)
(29.109,21.1)(29.114,20.8)(29.118,20.5)(29.121,20.0)(29.124,19.5)(29.127,19.1)(29.130,18.8)(29.133,18.2)(29.133,17.8)(29.133,17.4)(29.135,16.9)(29.137,16.4)(29.139,15.9)(29.147,15.6)(29.154,15.4)(29.161,15.1)(29.169,14.8)(29.179,14.5)(29.189,14.3)(29.201,14.0)(29.213,13.8)(29.223,13.5)(29.234,13.3)(29.246,13.0)(29.258,12.7)(29.269,12.5)(29.279,12.3)(29.291,12.1)(29.303,11.9)(29.318,11.8)(29.333,11.7)(29.348,11.6)(29.362,11.5)(29.377,11.4)(29.392,11.3)(29.407,11.2)(29.422,11.1)(29.437,10.8)(29.44,nan)
(29.45,0)(29.49,0)(29.53,0)(29.57,0)(29.61,0)(29.65,0)(29.69,0)(29.73,0)(29.77,0)(29.81,0)(29.85,0)(29.85,nan)
(29.744,40)(29.735,19.8)(29.735,19.0)(29.735,18.3)(29.738,17.7)(29.741,17.1)(29.745,16.5)(29.750,15.9)(29.755,15.5)(29.759,15.1)(29.762,14.7)(29.765,14.4)(29.770,13.8)(29.775,13.1)(29.780,12.5)(29.78,nan)
(29.854,10.7)(29.86,nan)
(29.720,9.9)(29.720,4.3)(29.72,nan)
(29.869,19.2)(29.869,18.5)(29.869,17.9)(29.872,17.4)(29.875,16.9)(29.880,16.5)(29.884,16.1)(29.888,15.7)(29.893,15.3)(29.899,14.8)(29.902,14.4)(29.905,14.0)(29.910,13.6)(29.914,13.2)(29.921,12.9)(29.929,12.6)(29.937,12.4)(29.944,12.3)(29.951,12.1)(29.959,11.9)(29.96,nan)
(29.99,0)(30.03,0)(30.07,0)(30.11,0)(30.15,0)(30.15,nan)
(30.27,0)(30.31,0)(30.35,0)(30.35,nan)
(30.138,19.6)(30.143,18.9)(30.143,18.2)(30.148,17.8)(30.152,17.4)(30.152,17.0)(30.152,16.7)(30.157,16.4)(30.161,16.1)(30.164,15.9)(30.167,15.7)(30.172,15.2)(30.177,14.8)(30.182,14.4)(30.190,14.1)(30.197,13.8)(30.205,13.3)(30.212,12.9)(30.227,12.6)(30.242,12.4)(30.257,12.2)(30.272,12.1)(30.287,11.9)(30.301,11.7)(30.316,11.5)(30.331,11.1)(30.346,10.8)(30.361,10.5)(30.376,10.2)
};
\addlegendentry{Star\_logCorrected}
\addplot[star, only marks, forget plot] coordinates {
(26.202,24.2)(26.202,18.6)(26.217,14.7)(26.223,13.8)(26.253,12.3)(26.271,11.5)(26.336,10.6)(26.307,9.9)(26.336,9.4)(26.366,8.6)(26.381,8.0)(26.396,7.5)(26.455,8.6)(26.471,7.3)
};
\end{axis}
% slide overlay annotations
\fill[gray!22] (-82pt,-56pt) rectangle (-78.5pt,261pt);
\draw[annred, line width=3.5pt, dash pattern=on 12pt off 9.2pt] (-73.7pt,213.2pt) -- (830pt,213.2pt);
\draw[annred, line width=3.5pt, dash pattern=on 12pt off 9.2pt] (-73.7pt,165pt) -- (830pt,165pt);
\draw[annred, line width=1.8pt] (-82pt,258.7pt) -- (95pt,258.7pt);
\draw[annred, line width=2pt, -{Straight Barb[length=10pt,width=11pt]}] (-56.2pt,255.2pt) -- (-4.5pt,166pt);
\node[anchor=base west, inner sep=0pt, font=\calib\fontsize{18.5}{18.5}\selectfont] at (11.3pt,221pt) {Maximum goal (peak lumi)};
\pgfresetboundingbox
\path[use as bounding box] (-82pt,-56pt) rectangle (830pt,261pt);
\end{tikzpicture}
\end{document}
